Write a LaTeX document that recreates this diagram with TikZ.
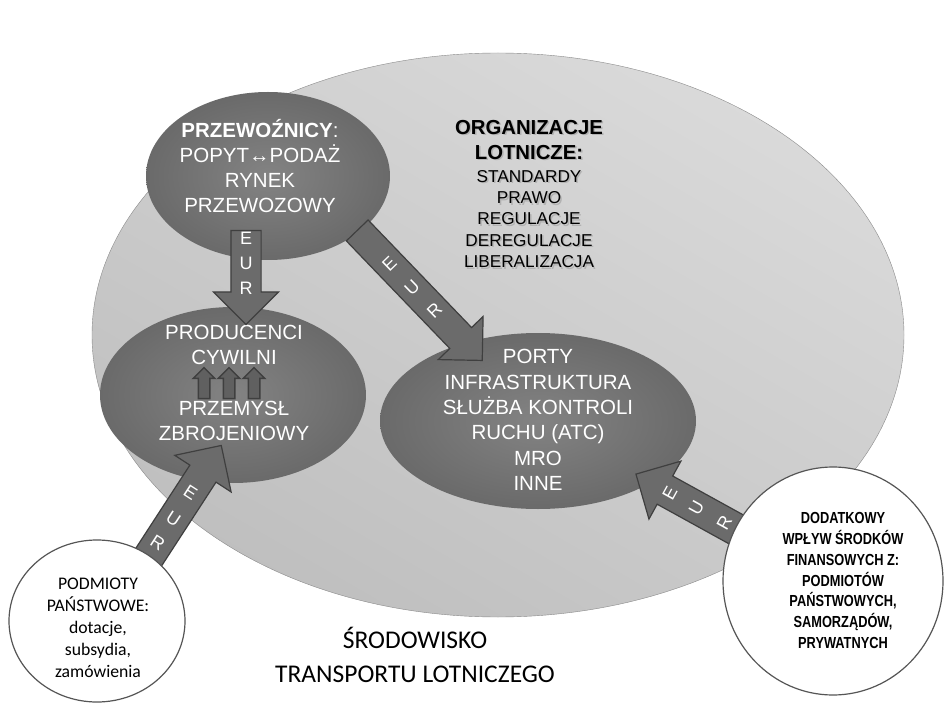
\documentclass[tikz,border=0pt]{standalone}
\usepackage{fontspec}
\setmainfont{Liberation Sans}
\newfontfamily\calibri{Carlito}
\newfontfamily\narrowbf[FakeStretch=0.8]{Liberation Sans Bold}
\usetikzlibrary{shapes.geometric,shapes.arrows,calc}
\definecolor{bigtop}{HTML}{DADADA}
\definecolor{bigbottom}{HTML}{BFBFBF}
\definecolor{bigline}{HTML}{8A8A8A}
\definecolor{ovallight}{HTML}{838383}
\definecolor{ovaldark}{HTML}{6A6A6A}
\definecolor{arrowgray}{HTML}{6B6B6B}
\definecolor{arrowline}{HTML}{3F3F3F}
\definecolor{bubbleline}{HTML}{555555}
\begin{document}
\begin{tikzpicture}[x=1pt,y=-1pt,
    oval/.style={ellipse,inner sep=0,inner color=ovallight,outer color=ovaldark},
    bubble/.style={ellipse,draw=bubbleline,line width=1.2pt,fill=white,inner sep=0},
    fatarrow/.style={single arrow,draw=arrowline,line width=1.2pt,fill=arrowgray,inner xsep=0,
        single arrow tip angle=90},
    smallup/.style={single arrow,draw=arrowline,line width=1.5pt,fill=arrowgray!90!black,inner xsep=0,
        inner ysep=5,rotate=90,minimum height=31,single arrow head extend=5},
    eur/.style={text=white,font=\fontsize{18}{18}\selectfont,inner sep=0},
    wtext/.style={text=white,align=center,font=\fontsize{20.5}{25.3}\selectfont}]
\useasboundingbox[fill=white] (0,0) rectangle (945,703);

% srodowisko transportu
\node[ellipse,draw=bigline,top color=bigtop,bottom color=bigbottom,shading angle=-30,
    minimum width=812,minimum height=564,inner sep=0] (env) at (498,335) {};

% owale
\node[oval,minimum width=244,minimum height=168] (carriers) at (268,176) {};
\node[oval,minimum width=266,minimum height=176] (makers) at (233,395) {};
\node[oval,minimum width=316,minimum height=176] (ports) at (538,421) {};

\node[wtext] (carrierstxt) at (260,166) {\textbf{PRZEWOŹNICY}:\\POPYT↔PODAŻ\\RYNEK\\PRZEWOZOWY};
\node[wtext] (civiltxt) at (234,345) {PRODUCENCI\\CYWILNI};
\node[wtext] (armstxt) at (234,421) {PRZEMYSŁ\\ZBROJENIOWY};
\node[wtext] (portstxt) at (538,420) {PORTY\\INFRASTRUKTURA\\SŁUŻBA KONTROLI\\RUCHU (ATC)\\MRO\\INNE};

% organizacje lotnicze (z cieniem)
\node[align=center,text=gray!60,font=\bfseries\fontsize{20.3}{25}\selectfont] (orgshadow) at (530.5,141.5) {ORGANIZACJE\\LOTNICZE:};
\node[align=center,font=\bfseries\fontsize{20.3}{25}\selectfont] (orghead) at (529,140) {ORGANIZACJE\\LOTNICZE:};
\node[align=center,text=gray!60,font=\fontsize{17.2}{21.3}\selectfont] (orgshadow2) at (530.5,220.5) {STANDARDY\\PRAWO\\REGULACJE\\DEREGULACJE\\LIBERALIZACJA};
\node[align=center,font=\fontsize{17.2}{21.3}\selectfont] (orglist) at (529,219) {STANDARDY\\PRAWO\\REGULACJE\\DEREGULACJE\\LIBERALIZACJA};

% strzalki w gore
\foreach \i/\x in {1/204,2/229,3/254}
  \node[smallup] (up\i) at (\x,386) {};

% strzalki EUR
\coordinate (a1) at (246,223); \coordinate (b1) at (246,317);
\coordinate (a2) at (352,225); \coordinate (b2) at (477,355);
\coordinate (a3) at (139,572); \coordinate (b3) at (217,452);
\coordinate (a4) at (750,537); \coordinate (b4) at (643,478);

\foreach \i/\sh/\he in {1/14.5/17.5,2/14.5/16,3/15/18,4/15.5/17}
  \path let \p1=($(b\i)-(a\i)$), \n1={atan2(\y1,\x1)}, \n2={veclen(\x1,\y1)} in
    node[fatarrow,rotate=\n1,minimum height=\n2,inner ysep=\sh,single arrow head extend=\he]
      (eur\i) at ($(a\i)!.5!(b\i)$) {};

\foreach \i/\r/\fe/\fu/\fr in {1/0/.16/.43/.69,2/44/.30/.48/.66,3/-33/.66/.44/.24,4/61/.75/.50/.24}{
  \node[eur,rotate=\r] (e\i) at ($(a\i)!\fe!(b\i)$) {E};
  \node[eur,rotate=\r] (u\i) at ($(a\i)!\fu!(b\i)$) {U};
  \node[eur,rotate=\r] (r\i) at ($(a\i)!\fr!(b\i)$) {R};
}

% zrodla finansowania
\node[bubble,minimum width=176,minimum height=162] (state) at (97,621) {};
\node[bubble,minimum width=220,minimum height=228] (extra) at (833,581) {};

\node[align=center,font=\calibri\fontsize{17.7}{22}\selectfont] (statetxt) at (98,628)
  {PODMIOTY\\PAŃSTWOWE:\\dotacje,\\subsydia,\\zamówienia};
\node[align=center,font=\narrowbf\fontsize{16}{20.8}\selectfont] (extratxt) at (843,580.5)
  {DODATKOWY\\WPŁYW ŚRODKÓW\\FINANSOWYCH Z:\\PODMIOTÓW\\PAŃSTWOWYCH,\\SAMORZĄDÓW,\\PRYWATNYCH};

\node[align=center,font=\calibri\fontsize{25.5}{34}\selectfont] (title) at (415,655)
  {ŚRODOWISKO\\TRANSPORTU LOTNICZEGO};
\end{tikzpicture}
\end{document}
